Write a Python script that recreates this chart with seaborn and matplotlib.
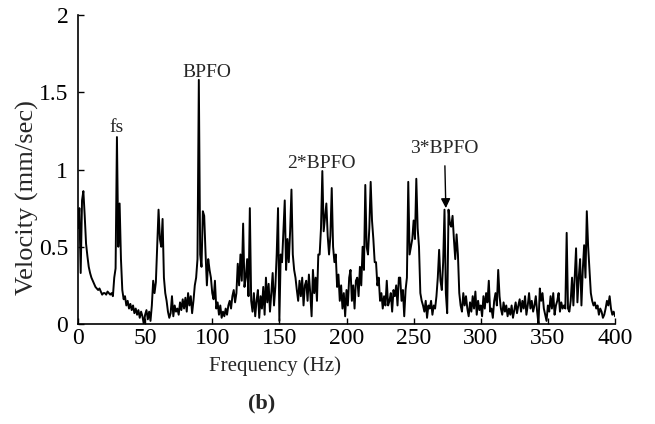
import numpy as np
import pandas as pd
import matplotlib
matplotlib.use("Agg")
import matplotlib.pyplot as plt
import seaborn as sns

# Velocity spectrum, 1 Hz steps from 0 to 400 Hz
velocity = [
    0.62, 0.75, 0.33, 0.80, 0.86, 0.70, 0.52, 0.44, 0.37, 0.33,
    0.30, 0.28, 0.26, 0.24, 0.23, 0.22, 0.23, 0.21, 0.19, 0.20,
    0.20, 0.19, 0.21, 0.20, 0.19, 0.20, 0.18, 0.30, 0.36, 1.21,
    0.50, 0.78, 0.42, 0.22, 0.16, 0.18, 0.12, 0.15, 0.10, 0.13,
    0.09, 0.12, 0.07, 0.10, 0.06, 0.09, 0.04, 0.08, 0.05, 0.00,
    0.06, 0.09, 0.03, 0.08, 0.02, 0.12, 0.28, 0.20, 0.27, 0.50,
    0.74, 0.55, 0.50, 0.68, 0.30, 0.20, 0.15, 0.08, 0.04, 0.07,
    0.18, 0.05, 0.12, 0.08, 0.10, 0.06, 0.14, 0.09, 0.16, 0.10,
    0.17, 0.08, 0.20, 0.12, 0.18, 0.07, 0.15, 0.25, 0.30, 0.42,
    1.58, 0.45, 0.37, 0.73, 0.70, 0.46, 0.25, 0.42, 0.35, 0.30,
    0.20, 0.16, 0.28, 0.10, 0.14, 0.06, 0.12, 0.04, 0.08, 0.05,
    0.10, 0.06, 0.12, 0.15, 0.10, 0.18, 0.22, 0.14, 0.20, 0.39,
    0.25, 0.45, 0.28, 0.65, 0.24, 0.30, 0.42, 0.18, 0.75, 0.15,
    0.08, 0.20, 0.05, 0.15, 0.22, 0.04, 0.18, 0.10, 0.24, 0.06,
    0.30, 0.14, 0.26, 0.08, 0.20, 0.33, 0.12, 0.24, 0.45, 0.75,
    0.02, 0.45, 0.40, 0.60, 0.80, 0.35, 0.55, 0.40, 0.60, 0.87,
    0.45, 0.35, 0.30, 0.22, 0.15, 0.28, 0.18, 0.30, 0.12, 0.25,
    0.28, 0.15, 0.32, 0.20, 0.05, 0.35, 0.20, 0.30, 0.15, 0.45,
    0.45, 0.62, 0.99, 0.60, 0.69, 0.78, 0.57, 0.45, 0.57, 0.88,
    0.50, 0.40, 0.45, 0.24, 0.32, 0.15, 0.25, 0.10, 0.20, 0.05,
    0.22, 0.12, 0.30, 0.35, 0.15, 0.25, 0.10, 0.28, 0.30, 0.18,
    0.37, 0.25, 0.50, 0.35, 0.90, 0.50, 0.45, 0.62, 0.92, 0.67,
    0.55, 0.40, 0.40, 0.25, 0.30, 0.15, 0.20, 0.10, 0.18, 0.12,
    0.28, 0.12, 0.15, 0.20, 0.08, 0.22, 0.18, 0.25, 0.12, 0.30,
    0.30, 0.15, 0.22, 0.05, 0.22, 0.30, 0.92, 0.45, 0.50, 0.55,
    0.67, 0.55, 0.94, 0.62, 0.50, 0.20, 0.15, 0.12, 0.08, 0.15,
    0.04, 0.12, 0.10, 0.15, 0.06, 0.12, 0.10, 0.18, 0.30, 0.48,
    0.28, 0.22, 0.40, 0.74, 0.20, 0.07, 0.74, 0.65, 0.63, 0.70,
    0.55, 0.42, 0.58, 0.45, 0.20, 0.12, 0.08, 0.20, 0.12, 0.18,
    0.10, 0.05, 0.14, 0.08, 0.18, 0.10, 0.21, 0.06, 0.15, 0.09,
    0.12, 0.05, 0.18, 0.10, 0.20, 0.14, 0.28, 0.08, 0.10, 0.04,
    0.15, 0.20, 0.12, 0.35, 0.18, 0.10, 0.06, 0.14, 0.08, 0.12,
    0.05, 0.10, 0.06, 0.12, 0.04, 0.09, 0.14, 0.07, 0.12, 0.16,
    0.08, 0.15, 0.10, 0.18, 0.06, 0.12, 0.20, 0.10, 0.15, 0.08,
    0.12, 0.18, 0.08, 0.00, 0.23, 0.15, 0.20, 0.10, 0.06, 0.02,
    0.12, 0.08, 0.18, 0.10, 0.20, 0.06, 0.12, 0.15, 0.20, 0.08,
    0.14, 0.10, 0.12, 0.10, 0.59, 0.10, 0.08, 0.15, 0.30, 0.12,
    0.30, 0.49, 0.14, 0.30, 0.42, 0.12, 0.35, 0.51, 0.30, 0.73,
    0.50, 0.35, 0.20, 0.15, 0.12, 0.14, 0.10, 0.12, 0.06, 0.10,
    0.08, 0.04, 0.06, 0.10, 0.15, 0.12, 0.18, 0.10, 0.06, 0.08,
    0.05,
]
frequency = np.arange(len(velocity))  # Hz

x_ticks = [0, 50, 100, 150, 200, 250, 300, 350, 400]
y_ticks = [0, 0.5, 1, 1.5, 2]
y_tick_labels = ["0", "0.5", "1", "1.5", "2"]

# annotations: (label, x, y)
labels = [("fs", 29, 1.245), ("BPFO", 96, 1.60), ("2*BPFO", 181, 1.01)]
arrow_label = ("3*BPFO", 273, 1.107)
arrow_tip = (274, 0.75)

df = pd.DataFrame({"Frequency": frequency, "Velocity": velocity})

sns.set_style("ticks")
plt.rcParams["font.family"] = ["Liberation Serif", "DejaVu Serif"]

fig = plt.figure(figsize=(6.55, 4.24), dpi=100)
ax = fig.add_axes([78 / 655, 1 - 324 / 424, (615 - 78) / 655, (324 - 15) / 424])

sns.lineplot(data=df, x="Frequency", y="Velocity", ax=ax, color="black",
             linewidth=1.4, estimator=None)

ax.set_xlim(0, 400)
ax.set_ylim(0, 2)
ax.set_xticks(x_ticks)
ax.set_xticklabels([str(t) for t in x_ticks])
ax.set_yticks(y_ticks)
ax.set_yticklabels(y_tick_labels)
ax.tick_params(direction="in", length=4, width=1, labelsize=17,
               colors="black")
ax.tick_params(axis="x", pad=3)
ax.tick_params(axis="y", pad=7)
for side in ["top", "right"]:
    ax.spines[side].set_visible(False)
for side in ["left", "bottom"]:
    ax.spines[side].set_color("black")
    ax.spines[side].set_linewidth(1.2)

ax.set_xlabel("Frequency (Hz)", fontsize=15)
ax.xaxis.set_label_coords((275 - 78) / 537, -0.105)
ax.set_ylabel("Velocity (mm/sec)", fontsize=19)
ax.yaxis.set_label_coords(-0.072, 0.41)

for text, x, y in labels:
    ax.text(x, y, text, ha="center", va="baseline", fontsize=14)

ax.annotate(arrow_label[0], xy=arrow_tip, xytext=(arrow_label[1], arrow_label[2]),
            ha="center", va="baseline", fontsize=14,
            arrowprops=dict(arrowstyle="-|>", color="black", lw=1.0,
                            mutation_scale=14, shrinkA=4, shrinkB=0))

fig.text(262 / 655, 1 - 403 / 424, "(b)", ha="center", va="center",
         fontsize=16, fontweight="bold")

fig.savefig("out.png", dpi=100)
